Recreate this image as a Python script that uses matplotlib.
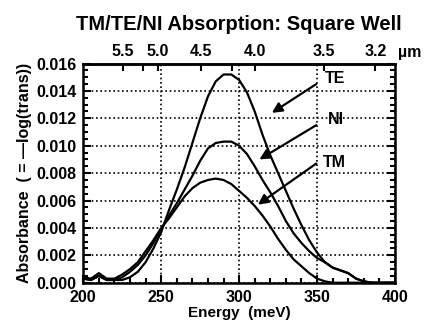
import numpy as np
import matplotlib.pyplot as plt
from matplotlib.ticker import MultipleLocator

plt.rcParams['font.family'] = ['Liberation Sans', 'DejaVu Sans']
plt.rcParams['font.weight'] = 'bold'

# Energy grid (meV) and absorbance
energy = [200, 205, 210, 215, 220, 225, 230, 235, 240, 245, 250, 255, 260, 265,
          270, 275, 280, 285, 290, 295, 300, 305, 310, 315, 320, 325, 330, 335,
          340, 345, 350, 355, 360, 365, 370, 375, 380, 385, 390, 395, 400]
te = [0.0003, 0.0002, 0.0005, 0.0002, 0.0002, 0.0002, 0.0004, 0.0008, 0.0015,
      0.0025, 0.0037, 0.0053, 0.0068, 0.0084, 0.0102, 0.0120, 0.0136, 0.0147,
      0.0152, 0.0152, 0.0148, 0.0139, 0.0125, 0.0108, 0.0093, 0.0080, 0.0067,
      0.0054, 0.0042, 0.0031, 0.0022, 0.0015, 0.0011, 0.0009, 0.0007, 0.0003,
      0.0001, 0.0, 0.0, 0.0, 0.0]
ni = [0.0003, 0.0002, 0.0005, 0.0002, 0.0002, 0.0004, 0.0008, 0.0013, 0.0020,
      0.0029, 0.0039, 0.0049, 0.0058, 0.0068, 0.0078, 0.0089, 0.0098, 0.0102,
      0.0103, 0.0103, 0.0100, 0.0094, 0.0085, 0.0075, 0.0066, 0.0056, 0.0045,
      0.0036, 0.0029, 0.0023, 0.0018, 0.0015, 0.0011, 0.0009, 0.0007, 0.0003,
      0.0001, 0.0, 0.0, 0.0, 0.0]
tm = [0.0004, 0.0003, 0.0007, 0.0003, 0.0003, 0.0006, 0.0010, 0.0015, 0.0023,
      0.0031, 0.0040, 0.0047, 0.0055, 0.0063, 0.0069, 0.0073, 0.0075, 0.0076,
      0.0075, 0.0072, 0.0067, 0.0062, 0.0056, 0.0049, 0.0041, 0.0032, 0.0024,
      0.0017, 0.0012, 0.0007, 0.0003, 0.0001, 0.0, 0.0, 0.0, 0.0,
      0.0, 0.0, 0.0, 0.0, 0.0]

# top axis: wavelength (um)
wl_major = [5.5, 5.0, 4.5, 4.0, 3.5, 3.2]
wl_minor = [5.2, 4.2]

# labels: (text, label position, arrow tail, arrow head) in data units
labels = [('TE', (355, 0.0149), (349.5, 0.0145), (321, 0.0124)),
          ('NI', (357, 0.0119), (349.5, 0.0115), (313, 0.0090)),
          ('TM', (354, 0.0088), (349.5, 0.0087), (312, 0.0057))]

fig = plt.figure(figsize=(4.26, 3.22), dpi=100)
ax = fig.add_axes([0.1955, 0.122, 0.7317, 0.6807])

for y in (te, ni, tm):
    ax.plot(energy, y, color='black', lw=1.6)

ax.set_xlim(200, 400)
ax.set_ylim(0, 0.016)
ax.xaxis.set_major_locator(MultipleLocator(50))
ax.xaxis.set_minor_locator(MultipleLocator(10))
ax.yaxis.set_major_locator(MultipleLocator(0.002))
ax.yaxis.set_minor_locator(MultipleLocator(0.0005))
ax.yaxis.set_major_formatter(plt.FormatStrFormatter('%.3f'))
ax.grid(True, which='major', color='black', linestyle=(0, (1, 1.6)), lw=1.2)
ax.tick_params(which='both', direction='in', top=False, right=True,
               labelsize=11.5, width=1.5, colors='black')
ax.tick_params(which='major', length=6)
ax.tick_params(which='minor', length=3.5)
ax.tick_params(axis='x', pad=5)
ax.tick_params(axis='y', pad=5)
for s in ax.spines.values():
    s.set_linewidth(1.8)

ax.set_xlabel('Energy  (meV)', fontsize=11, fontweight='bold', labelpad=1)
ax.set_ylabel('Absorbance  ( = \u2014log(trans))', fontsize=11.5,
              fontweight='bold', labelpad=3)

sec = ax.secondary_xaxis('top', functions=(lambda e: 1239.84 / e,
                                           lambda w: 1239.84 / w))
sec.set_xticks(wl_major)
sec.set_xticks(wl_minor, minor=True)
sec.set_xticklabels([f'{w:.1f}' for w in wl_major])
sec.tick_params(which='both', direction='in', length=5, width=1.5,
                labelsize=11.5, pad=3)
sec.spines['top'].set_linewidth(1.8)
ax.text(1.048, 1.05, '\u00b5m', transform=ax.transAxes, fontsize=11.5,
        fontweight='bold', ha='center', va='center')

ax.set_title('TM/TE/NI Absorption: Square Well', fontsize=14.5,
             fontweight='bold', pad=24)

for name, txt_pos, tail, head in labels:
    ax.annotate('', xy=head, xytext=tail,
                arrowprops=dict(arrowstyle='-|>', color='black', lw=1.6,
                                mutation_scale=15, shrinkA=0, shrinkB=0))
    ax.text(txt_pos[0], txt_pos[1], name, fontsize=11.5, fontweight='bold',
            ha='left', va='center')

fig.savefig('out.png', dpi=100)
